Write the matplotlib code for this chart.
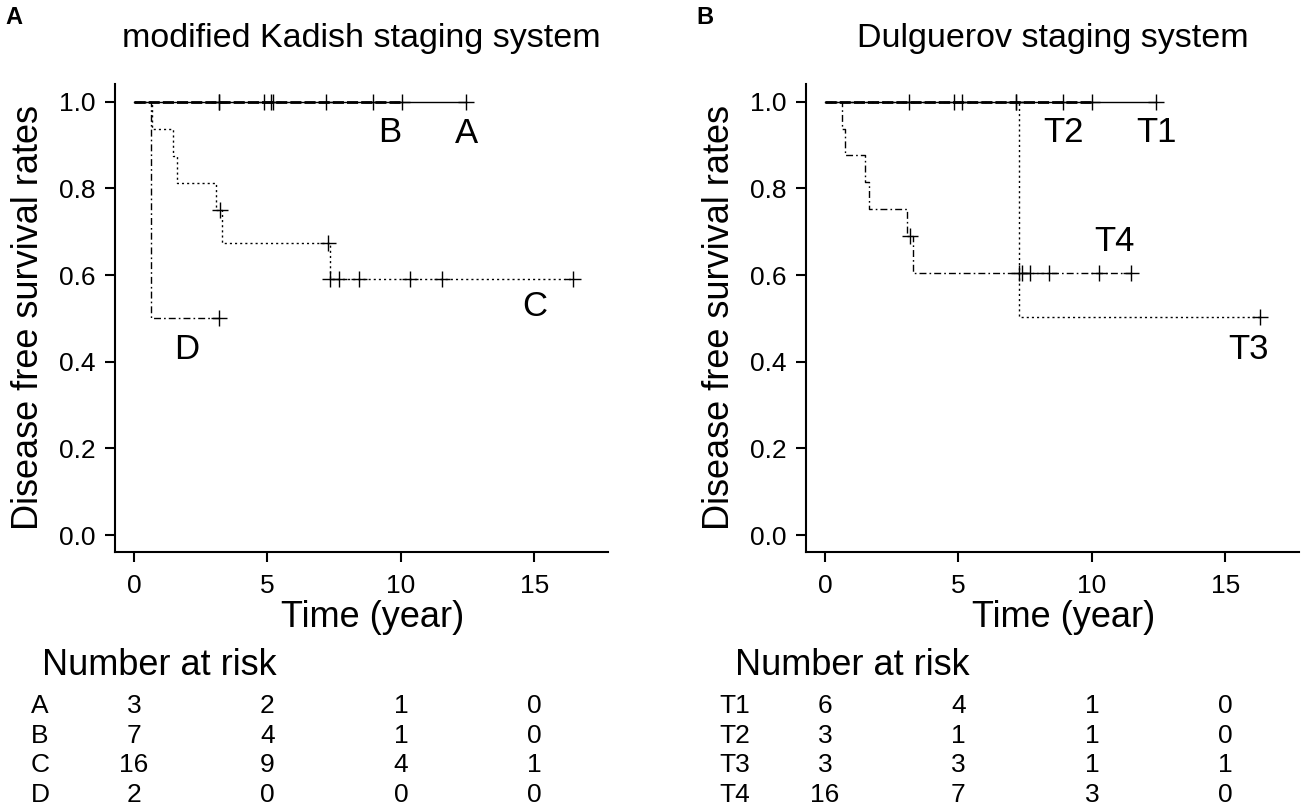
import matplotlib
matplotlib.use("Agg")
import matplotlib.pyplot as plt
from matplotlib.transforms import blended_transform_factory
import numpy as np

plt.rcParams['font.family'] = ['Liberation Sans', 'DejaVu Sans']

W, H = 1304, 808

# ---- panel A : modified Kadish staging system ----
kadish_names = ['A', 'B', 'C', 'D']
kadish_event_t = [[], [], [0.66, 1.47, 1.62, 3.07, 3.30, 7.34], [0.62]]
kadish_event_s = [[], [], [0.938, 0.875, 0.813, 0.75, 0.675, 0.591], [0.5]]
kadish_cens = [[3.2, 7.18, 12.44],
               [3.2, 4.87, 5.12, 5.22, 8.97, 10.05],
               [3.22, 7.28, 7.34, 7.69, 8.44, 10.34, 11.55, 16.44],
               [3.18]]
kadish_lab = [(12.46, 0.927), (9.57, 0.929), (15.0, 0.527), (1.97, 0.429)]
kadish_risk = [[3, 2, 1, 0], [7, 4, 1, 0], [16, 9, 4, 1], [2, 0, 0, 0]]

# ---- panel B : Dulguerov staging system ----
dulg_names = ['T1', 'T2', 'T3', 'T4']
dulg_event_t = [[], [], [7.28], [0.65, 0.75, 1.49, 1.64, 3.06, 3.29]]
dulg_event_s = [[], [], [0.503], [0.938, 0.877, 0.814, 0.752, 0.691, 0.604]]
dulg_cens = [[3.16, 7.14, 8.93, 12.39],
             [4.83, 5.15, 9.99],
             [7.14, 16.3],
             [3.19, 7.28, 7.39, 7.68, 8.4, 10.28, 11.45]]
dulg_lab = [(12.43, 0.929), (8.93, 0.929), (15.86, 0.429), (10.83, 0.677)]
dulg_risk = [[6, 4, 1, 0], [3, 1, 1, 0], [3, 3, 1, 1], [16, 7, 3, 0]]

risk_times = [0, 5, 10, 15]
# solid, dashed, dotted, dot-dash (R lty 1..4)
styles = ['-', (0, (4, 1.1)), (0, (1.5, 2.2)), (0, (5, 2.2, 1.2, 2.2))]
widths = [1.0, 2.0, 1.0, 1.0]
zorders = [2, 3, 2, 2]

fig = plt.figure(figsize=(W / 100, H / 100), dpi=100)


def px(x, y):
    return x / W, 1 - y / H


def panel(left, title, letter, names, ev_t, ev_s, cens, labs, risk, row_x, nar_x):
    ax = fig.add_axes([left / W, 1 - 552 / H, 493 / W, 468 / H])
    for i in range(len(names)):
        t = [0] + ev_t[i]
        s = [1.0] + ev_s[i]
        end = max(cens[i])
        ax.step(t + [end], s + [s[-1]], where='post', color='black',
                lw=widths[i], linestyle=styles[i], zorder=zorders[i])
        idx = np.searchsorted(ev_t[i], cens[i], side='right')
        cy = [s[k] for k in idx]
        ax.plot(cens[i], cy, '+', color='black', ms=11, mew=1.0, zorder=4)
        ax.text(labs[i][0], labs[i][1], names[i], fontsize=25,
                ha='center', va='center')
    ax.set_xlim(-0.71, 17.76)
    ax.set_ylim(-0.039, 1.041)
    ax.set_xticks(risk_times)
    ax.set_yticks([0, 0.2, 0.4, 0.6, 0.8, 1.0])
    ax.set_yticklabels(['0.0', '0.2', '0.4', '0.6', '0.8', '1.0'])
    ax.spines['top'].set_visible(False)
    ax.spines['right'].set_visible(False)
    for sp in ['left', 'bottom']:
        ax.spines[sp].set_linewidth(1.5)
    ax.tick_params(axis='both', labelsize=19, length=7, width=1.5)
    ax.tick_params(axis='y', pad=7)
    ax.tick_params(axis='x', pad=9)

    # titles and labels
    fig.text(*px(left + 246.5, 47), title, fontsize=24.5, ha='center', va='baseline')
    fig.text(*px(left - 110, 18), letter, fontsize=17, fontweight='bold',
             ha='left', va='center')
    fig.text(*px(left - 104, 318), 'Disease free survival rates', fontsize=26,
             rotation=90, ha='left', va='center')
    fig.text(*px(left + 258, 627), 'Time (year)', fontsize=26, ha='center',
             va='baseline')

    # number at risk table
    fig.text(*px(nar_x, 675), 'Number at risk', fontsize=26, ha='left',
             va='baseline')
    tr = blended_transform_factory(ax.transData, fig.transFigure)
    for i in range(len(names)):
        yb = 1 - (713 + 29.6 * i) / H
        fig.text(row_x / W, yb, names[i], fontsize=19, ha='left', va='baseline')
        for j in range(len(risk_times)):
            ax.text(risk_times[j], yb, str(risk[i][j]), fontsize=19,
                    ha='center', va='baseline', transform=tr)
    return ax


panel(115, 'modified Kadish staging system', 'A', kadish_names, kadish_event_t,
      kadish_event_s, kadish_cens, kadish_lab, kadish_risk, 31, 42)
panel(806, 'Dulguerov staging system', 'B', dulg_names, dulg_event_t,
      dulg_event_s, dulg_cens, dulg_lab, dulg_risk, 719, 735)

fig.savefig('out.png', dpi=100)
